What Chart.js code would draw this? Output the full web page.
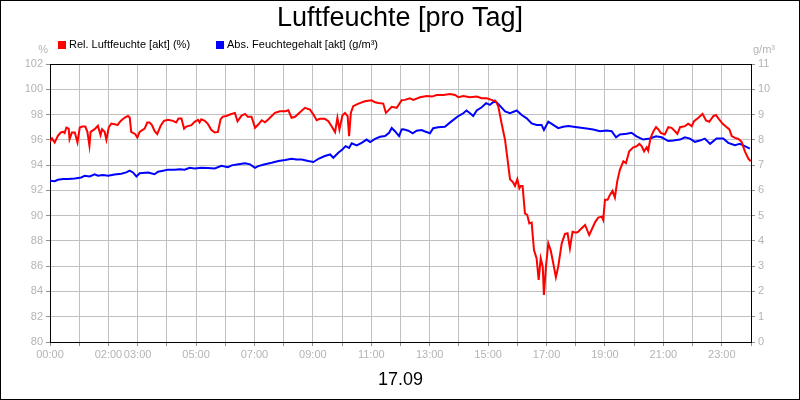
<!DOCTYPE html>
<html>
<head>
<meta charset="utf-8">
<script src="https://cdn.jsdelivr.net/npm/chart.js@4/dist/chart.umd.min.js"></script>
<style>
  html, body { margin: 0; padding: 0; background: #ffffff; }
  #wrap { width: 800px; height: 400px; position: relative; }
</style>
</head>
<body>
<div id="wrap"><canvas id="c" width="800" height="400"></canvas></div>
<script>
// ---- data (hours of day, values) ----
const chartTitle = 'Luftfeuchte [pro Tag]';
const dateLabel = '17.09';
const relLabel = 'Rel. Luftfeuchte [akt] (%)';
const absLabel = 'Abs. Feuchtegehalt [akt] (g/m³)';
const leftUnit = '%';
const rightUnit = 'g/m³';

const xTickHours = [0, 2, 3, 5, 7, 9, 11, 13, 15, 17, 19, 21, 23];
const xTickLabels = ['00:00', '02:00', '03:00', '05:00', '07:00', '09:00', '11:00', '13:00', '15:00', '17:00', '19:00', '21:00', '23:00'];

const relHours = [0.00,0.07,0.16,0.27,0.37,0.45,0.50,0.56,0.64,0.67,0.75,0.85,0.94,1.02,1.10,1.21,1.28,1.35,1.39,1.53,1.64,1.73,1.78,1.87,1.93,2.01,2.10,2.21,2.31,2.42,2.56,2.67,2.73,2.78,2.92,2.99,3.07,3.24,3.33,3.41,3.49,3.58,3.67,3.79,3.90,4.04,4.21,4.32,4.40,4.50,4.59,4.67,4.84,4.95,5.07,5.12,5.18,5.30,5.41,5.52,5.64,5.75,5.84,5.92,6.04,
 6.16,6.33,6.42,6.56,6.68,6.77,6.90,7.02,7.13,7.25,7.36,7.47,7.70,7.87,8.05,8.16,8.27,8.39,8.56,8.73,8.90,9.02,9.13,9.24,9.41,9.53,9.64,9.76,9.84,9.91,10.01,10.10,10.19,10.24,10.30,10.38,10.56,10.78,11.01,11.13,11.24,11.41,11.50,11.61,11.70,11.87,12.04,
 12.15,12.32,12.44,12.67,12.90,13.07,13.24,13.47,13.69,13.87,13.98,14.15,14.38,14.61,14.78,14.95,15.12,15.27,15.35,15.46,15.58,15.66,15.75,15.86,15.92,16.00,16.07,16.12,16.18,16.26,16.34,16.41,16.49,16.57,16.66,16.73,16.80,16.87,16.91,16.98,17.06,17.14,17.23,17.32,17.40,17.52,17.63,17.72,17.80,17.89,18.01,18.09,18.14,
 18.32,18.46,18.54,18.66,18.77,18.89,18.94,19.00,19.09,19.17,19.26,19.34,19.42,19.51,19.63,19.72,19.83,19.97,20.08,20.18,20.26,20.34,20.43,20.48,20.56,20.66,20.75,20.83,20.91,21.05,21.17,21.28,21.40,21.48,21.57,21.74,21.85,21.97,22.05,22.20,22.34,22.46,22.57,22.71,22.80,22.91,23.03,23.17,23.26,23.34,23.45,23.57,23.68,23.79,23.91,23.99];
const relValues = [95.87,96.11,95.79,96.32,96.58,96.63,96.53,96.97,96.89,96.05,96.58,96.58,95.79,96.97,97.05,97.05,96.63,95.53,96.63,96.84,97.11,96.37,96.84,96.63,96.00,96.97,97.29,97.24,97.16,97.50,97.76,97.89,97.76,96.63,96.45,96.18,96.63,96.89,97.37,97.37,97.16,96.71,96.45,97.11,97.50,97.58,97.50,97.37,97.68,97.68,96.89,97.05,97.16,97.42,97.58,97.37,97.63,97.50,97.24,96.79,96.58,96.63,97.63,97.84,97.89,
 98.00,98.13,97.47,97.92,98.05,97.82,97.82,96.95,97.21,97.55,97.39,97.61,98.13,98.26,98.26,98.34,97.74,97.82,98.18,98.53,98.39,98.00,97.55,97.66,97.66,97.47,97.08,96.61,97.74,96.82,97.92,98.13,97.87,96.29,98.13,98.66,98.87,99.05,99.13,98.97,98.92,98.87,98.13,98.39,98.61,98.53,99.13,
 99.16,99.29,99.16,99.37,99.47,99.42,99.55,99.55,99.63,99.55,99.37,99.47,99.37,99.42,99.29,99.29,99.16,99.02,98.63,97.31,95.99,94.54,92.88,92.61,92.35,92.88,92.16,92.35,92.35,90.18,90.05,89.39,89.45,87.28,86.62,84.91,86.62,85.96,83.72,85.96,87.81,87.28,86.23,85.12,85.96,87.81,88.55,88.60,87.41,88.73,88.65,88.73,88.86,
 89.26,88.46,88.86,89.47,89.84,89.92,89.66,91.25,91.25,91.64,91.96,91.43,92.71,93.63,94.30,94.16,95.09,95.41,95.49,95.68,95.49,95.09,95.41,95.15,96.15,96.68,97.00,96.82,96.55,96.42,97.00,96.95,96.68,96.47,97.00,97.08,97.27,97.08,97.48,97.75,98.06,97.53,97.43,97.88,97.96,97.61,97.27,97.00,96.82,96.29,96.15,96.07,95.84,95.09,94.51,94.30];

const absHours = [0.00,0.16,0.27,0.45,0.62,0.85,1.07,1.19,1.36,1.53,1.64,1.81,1.99,2.21,2.44,2.61,2.73,2.84,2.96,3.07,3.36,3.58,3.70,3.87,4.04,4.27,4.44,4.61,4.78,4.95,5.18,5.41,5.64,5.87,6.09,
 6.22,6.45,6.68,6.85,7.02,7.13,7.36,7.59,7.82,8.05,8.27,8.44,8.62,8.84,9.02,9.19,9.41,9.59,9.70,9.87,10.01,10.12,10.24,10.33,10.50,10.67,10.84,10.96,11.13,11.30,11.47,11.61,11.70,11.81,11.95,12.04,
 12.10,12.27,12.42,12.55,12.72,12.84,13.01,13.12,13.29,13.52,13.69,13.81,13.98,14.15,14.26,14.38,14.49,14.61,14.78,14.93,15.06,15.23,15.41,15.58,15.75,15.98,16.15,16.32,16.49,16.66,16.83,16.91,17.06,17.23,17.40,17.57,17.75,17.92,
 18.37,18.60,18.83,19.06,19.23,19.38,19.51,19.74,19.91,20.08,20.31,20.54,20.75,20.94,21.17,21.34,21.57,21.74,21.91,22.08,22.25,22.42,22.60,22.82,23.05,23.22,23.45,23.62,23.79,23.96];
const absValues = [6.38,6.36,6.42,6.45,6.45,6.47,6.51,6.58,6.55,6.63,6.58,6.61,6.58,6.63,6.66,6.71,6.78,6.71,6.55,6.68,6.71,6.64,6.74,6.78,6.82,6.82,6.84,6.82,6.89,6.87,6.89,6.88,6.87,6.97,6.92,
 6.99,7.03,7.07,7.03,6.89,6.96,7.03,7.09,7.16,7.20,7.25,7.22,7.22,7.16,7.12,7.25,7.36,7.42,7.29,7.49,7.62,7.75,7.68,7.86,7.78,7.88,8.01,7.91,8.04,8.12,8.15,8.28,8.47,8.34,8.15,8.41,
 8.42,8.36,8.26,8.36,8.39,8.33,8.26,8.46,8.50,8.52,8.68,8.79,8.94,9.05,9.16,9.05,8.94,9.16,9.29,9.45,9.38,9.55,9.34,9.12,9.05,9.16,8.98,8.85,8.65,8.59,8.59,8.39,8.72,8.59,8.46,8.52,8.55,8.52,
 8.45,8.41,8.34,8.37,8.34,8.10,8.21,8.24,8.28,8.14,8.01,8.05,8.14,8.10,7.95,7.97,8.01,8.10,8.05,7.92,7.97,8.05,7.84,8.05,8.05,7.88,7.79,7.84,7.75,7.65];

const relColor = '#ff0000';
const absColor = '#0000ff';
const FONT = "'Liberation Sans', Arial, sans-serif";
const TICK_COLOR = '#b4b4b4';
const GRID_COLOR = '#c0c0c0';

const relPoints = relHours.map((h, i) => ({ x: h, y: relValues[i] }));
const absPoints = absHours.map((h, i) => ({ x: h, y: absValues[i] }));

const decorPlugin = {
  id: 'decor',
  beforeDraw(chart) {
    const ctx = chart.ctx;
    ctx.save();
    ctx.fillStyle = '#ffffff';
    ctx.fillRect(0, 0, chart.width, chart.height);
    ctx.restore();
  },
  afterDraw(chart) {
    const ctx = chart.ctx;
    const a = chart.chartArea;
    ctx.save();
    // plot frame top line
    ctx.strokeStyle = '#000000';
    ctx.lineWidth = 1;
    ctx.beginPath();
    ctx.moveTo(a.left, Math.round(a.top) + 0.5);
    ctx.lineTo(a.right, Math.round(a.top) + 0.5);
    ctx.stroke();
    // outer border
    ctx.strokeRect(0.5, 0.5, chart.width - 1, chart.height - 1);
    // legend
    ctx.font = '11px ' + FONT;
    ctx.textBaseline = 'alphabetic';
    ctx.textAlign = 'left';
    const items = [
      { x: 58, color: chart.data.datasets[0].borderColor, text: chart.data.datasets[0].label },
      { x: 216, color: chart.data.datasets[1].borderColor, text: chart.data.datasets[1].label }
    ];
    items.forEach(it => {
      ctx.fillStyle = it.color;
      ctx.fillRect(it.x, 41, 8, 8);
      ctx.fillStyle = '#000000';
      ctx.fillText(it.text, it.x + 11, 48);
    });
    // unit labels
    ctx.fillStyle = TICK_COLOR;
    ctx.textAlign = 'right';
    ctx.fillText(leftUnit, 48, 53);
    ctx.textAlign = 'left';
    ctx.fillText(rightUnit, 753, 53);
    ctx.restore();
  }
};

new Chart(document.getElementById('c'), {
  type: 'line',
  data: {
    datasets: [
      { label: relLabel, data: relPoints, yAxisID: 'yL', borderColor: relColor, backgroundColor: relColor,
        borderWidth: 2, pointRadius: 0, tension: 0, fill: false },
      { label: absLabel, data: absPoints, yAxisID: 'yR', borderColor: absColor, backgroundColor: absColor,
        borderWidth: 2, pointRadius: 0, tension: 0, fill: false }
    ]
  },
  options: {
    responsive: false,
    animation: false,
    events: [],
    layout: { padding: 0 },
    plugins: {
      legend: { display: false },
      tooltip: { enabled: false },
      title: {
        display: true,
        text: chartTitle,
        color: '#000000',
        font: { family: FONT, size: 27, weight: 'normal' },
        padding: { top: 2, bottom: 29.6 }
      }
    },
    scales: {
      x: {
        type: 'linear',
        position: 'bottom',
        min: 0, max: 24,
        afterFit(scale) { scale.height = 58; },
        ticks: {
          stepSize: 1, autoSkip: false, maxRotation: 0, padding: 2,
          color: TICK_COLOR, font: { family: FONT, size: 11 },
          callback: (v) => { const i = xTickHours.indexOf(v); return i >= 0 ? xTickLabels[i] : ''; }
        },
        grid: { color: GRID_COLOR, tickColor: '#909090', tickLength: 4, drawTicks: true },
        border: { color: '#000000', width: 1 },
        title: { display: true, text: dateLabel, color: '#000000',
          font: { family: FONT, size: 18 }, padding: { top: 2, bottom: 9 } }
      },
      yL: {
        type: 'linear',
        position: 'left',
        min: 80, max: 102,
        afterFit(scale) { scale.width = 50; },
        ticks: { stepSize: 2, padding: 3, color: TICK_COLOR, font: { family: FONT, size: 11 } },
        grid: { color: GRID_COLOR, tickColor: '#909090', tickLength: 4 },
        border: { color: '#000000', width: 1 }
      },
      yR: {
        type: 'linear',
        position: 'right',
        min: 0, max: 11,
        afterFit(scale) { scale.width = 49; },
        ticks: { stepSize: 1, padding: 3, color: TICK_COLOR, font: { family: FONT, size: 11 } },
        grid: { drawOnChartArea: false, tickColor: '#909090', tickLength: 4 },
        border: { color: '#000000', width: 1 }
      }
    }
  },
  plugins: [decorPlugin]
});
</script>
</body>
</html>
